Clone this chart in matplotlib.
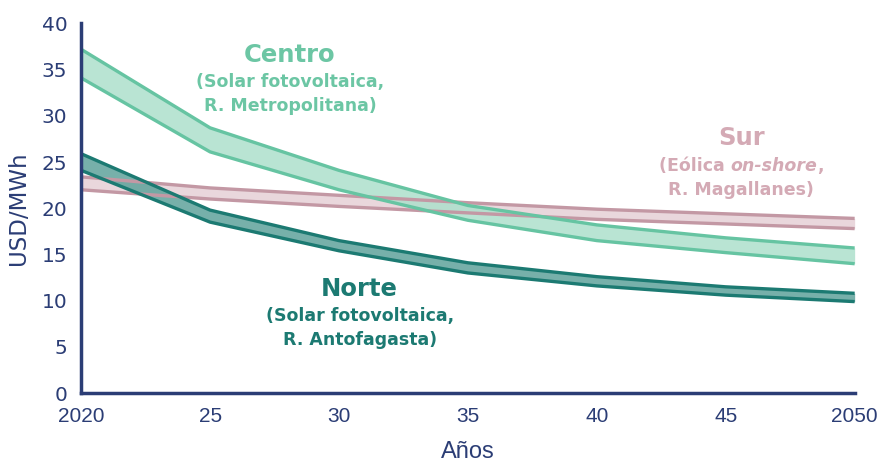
import matplotlib.pyplot as plt

plt.rcParams['font.family'] = 'Liberation Sans'

years = [2020, 2025, 2030, 2035, 2040, 2045, 2050]

centro_hi = [37.2, 28.7, 24.1, 20.3, 18.2, 16.8, 15.7]
centro_lo = [34.1, 26.1, 22.0, 18.7, 16.5, 15.2, 14.0]

norte_hi = [25.9, 19.8, 16.5, 14.1, 12.6, 11.5, 10.8]
norte_lo = [24.1, 18.5, 15.4, 13.0, 11.6, 10.6, 9.9]

sur_hi = [23.4, 22.2, 21.4, 20.6, 19.9, 19.4, 18.9]
sur_lo = [22.0, 21.0, 20.2, 19.5, 18.8, 18.3, 17.8]

xtick_labels = ['2020', '25', '30', '35', '40', '45', '2050']
yticks = [0, 5, 10, 15, 20, 25, 30, 35, 40]

navy = '#2b3d75'
c_centro, c_centro_fill, c_centro_txt = '#66c4a2', '#ade0cc', '#6cc6a4'
c_norte, c_norte_fill = '#1c7a72', '#5fa29b'
c_sur, c_sur_fill, c_sur_txt = '#c398a4', '#e6d0d6', '#d4aab5'

fig = plt.figure(figsize=(8.82, 4.68), dpi=100)
ax = fig.add_axes([0.092, 0.160, 0.877, 0.790])

for hi, lo, edge, fill in [(sur_hi, sur_lo, c_sur, c_sur_fill),
                           (centro_hi, centro_lo, c_centro, c_centro_fill),
                           (norte_hi, norte_lo, c_norte, c_norte_fill)]:
    ax.fill_between(years, lo, hi, color=fill, alpha=0.85, lw=0)
    ax.plot(years, hi, color=edge, lw=2.4, solid_capstyle='butt')
    ax.plot(years, lo, color=edge, lw=2.4, solid_capstyle='butt')

ax.set_xlim(2020, 2050)
ax.set_ylim(0, 40)
ax.set_xticks(years, labels=xtick_labels, fontsize=15, fontfamily='Liberation Sans')
ax.set_yticks(yticks, labels=[str(v) for v in yticks], fontsize=14.5,
              fontfamily='DejaVu Sans')
ax.tick_params(length=0, colors=navy)
ax.tick_params(axis='x', pad=10)
ax.tick_params(axis='y', pad=10)

for s in ['top', 'right']:
    ax.spines[s].set_visible(False)
for s in ['left', 'bottom']:
    ax.spines[s].set_color(navy)
    ax.spines[s].set_linewidth(2.5)

ax.set_ylabel('USD/MWh', fontsize=16.5, color=navy, family='DejaVu Sans', labelpad=8)
ax.set_xlabel('Años', fontsize=17, color=navy, family='Liberation Sans', labelpad=11)

fam = 'DejaVu Sans'
big, small = 17.5, 12.5
bold = dict(family=fam, fontweight='bold', ha='center', va='center')
ax.text(2028.1, 36.6, 'Centro', fontsize=big, color=c_centro_txt, **bold)
ax.text(2028.1, 33.7, '(Solar fotovoltaica,', fontsize=small, color=c_centro_txt, **bold)
ax.text(2028.1, 31.1, 'R. Metropolitana)', fontsize=small, color=c_centro_txt, **bold)

ax.text(2030.8, 11.3, 'Norte', fontsize=big, color=c_norte, **bold)
ax.text(2030.8, 8.3, '(Solar fotovoltaica,', fontsize=small, color=c_norte, **bold)
ax.text(2030.8, 5.7, 'R. Antofagasta)', fontsize=small, color=c_norte, **bold)

ax.text(2045.6, 27.6, 'Sur', fontsize=big, color=c_sur_txt, **bold)
t1 = ax.text(2041.9, 24.6, '(Eólica ', fontsize=small, color=c_sur_txt,
             family=fam, fontweight='bold', ha='left', va='center')
t2 = ax.annotate('on-shore', xy=(1, 0), xycoords=t1, va='bottom', ha='left',
                 fontsize=small, color=c_sur_txt, family=fam,
                 fontweight='bold', fontstyle='italic')
t3 = ax.annotate(',', xy=(1, 0), xycoords=t2, va='bottom', ha='left',
                 fontsize=small, color=c_sur_txt, family=fam, fontweight='bold')
ax.text(2045.6, 22.0, 'R. Magallanes)', fontsize=small, color=c_sur_txt, **bold)

# center the mixed-style line on the "Sur" label
fig.canvas.draw()
r = fig.canvas.get_renderer()
left = t1.get_window_extent(r).x0
right = t3.get_window_extent(r).x1
cx = ax.transData.transform((2045.6, 0))[0]
shift = cx - (left + right) / 2
x0, y0 = ax.transData.transform(t1.get_position())
t1.set_position(ax.transData.inverted().transform((x0 + shift, y0)))

fig.savefig('out.png', dpi=100)
